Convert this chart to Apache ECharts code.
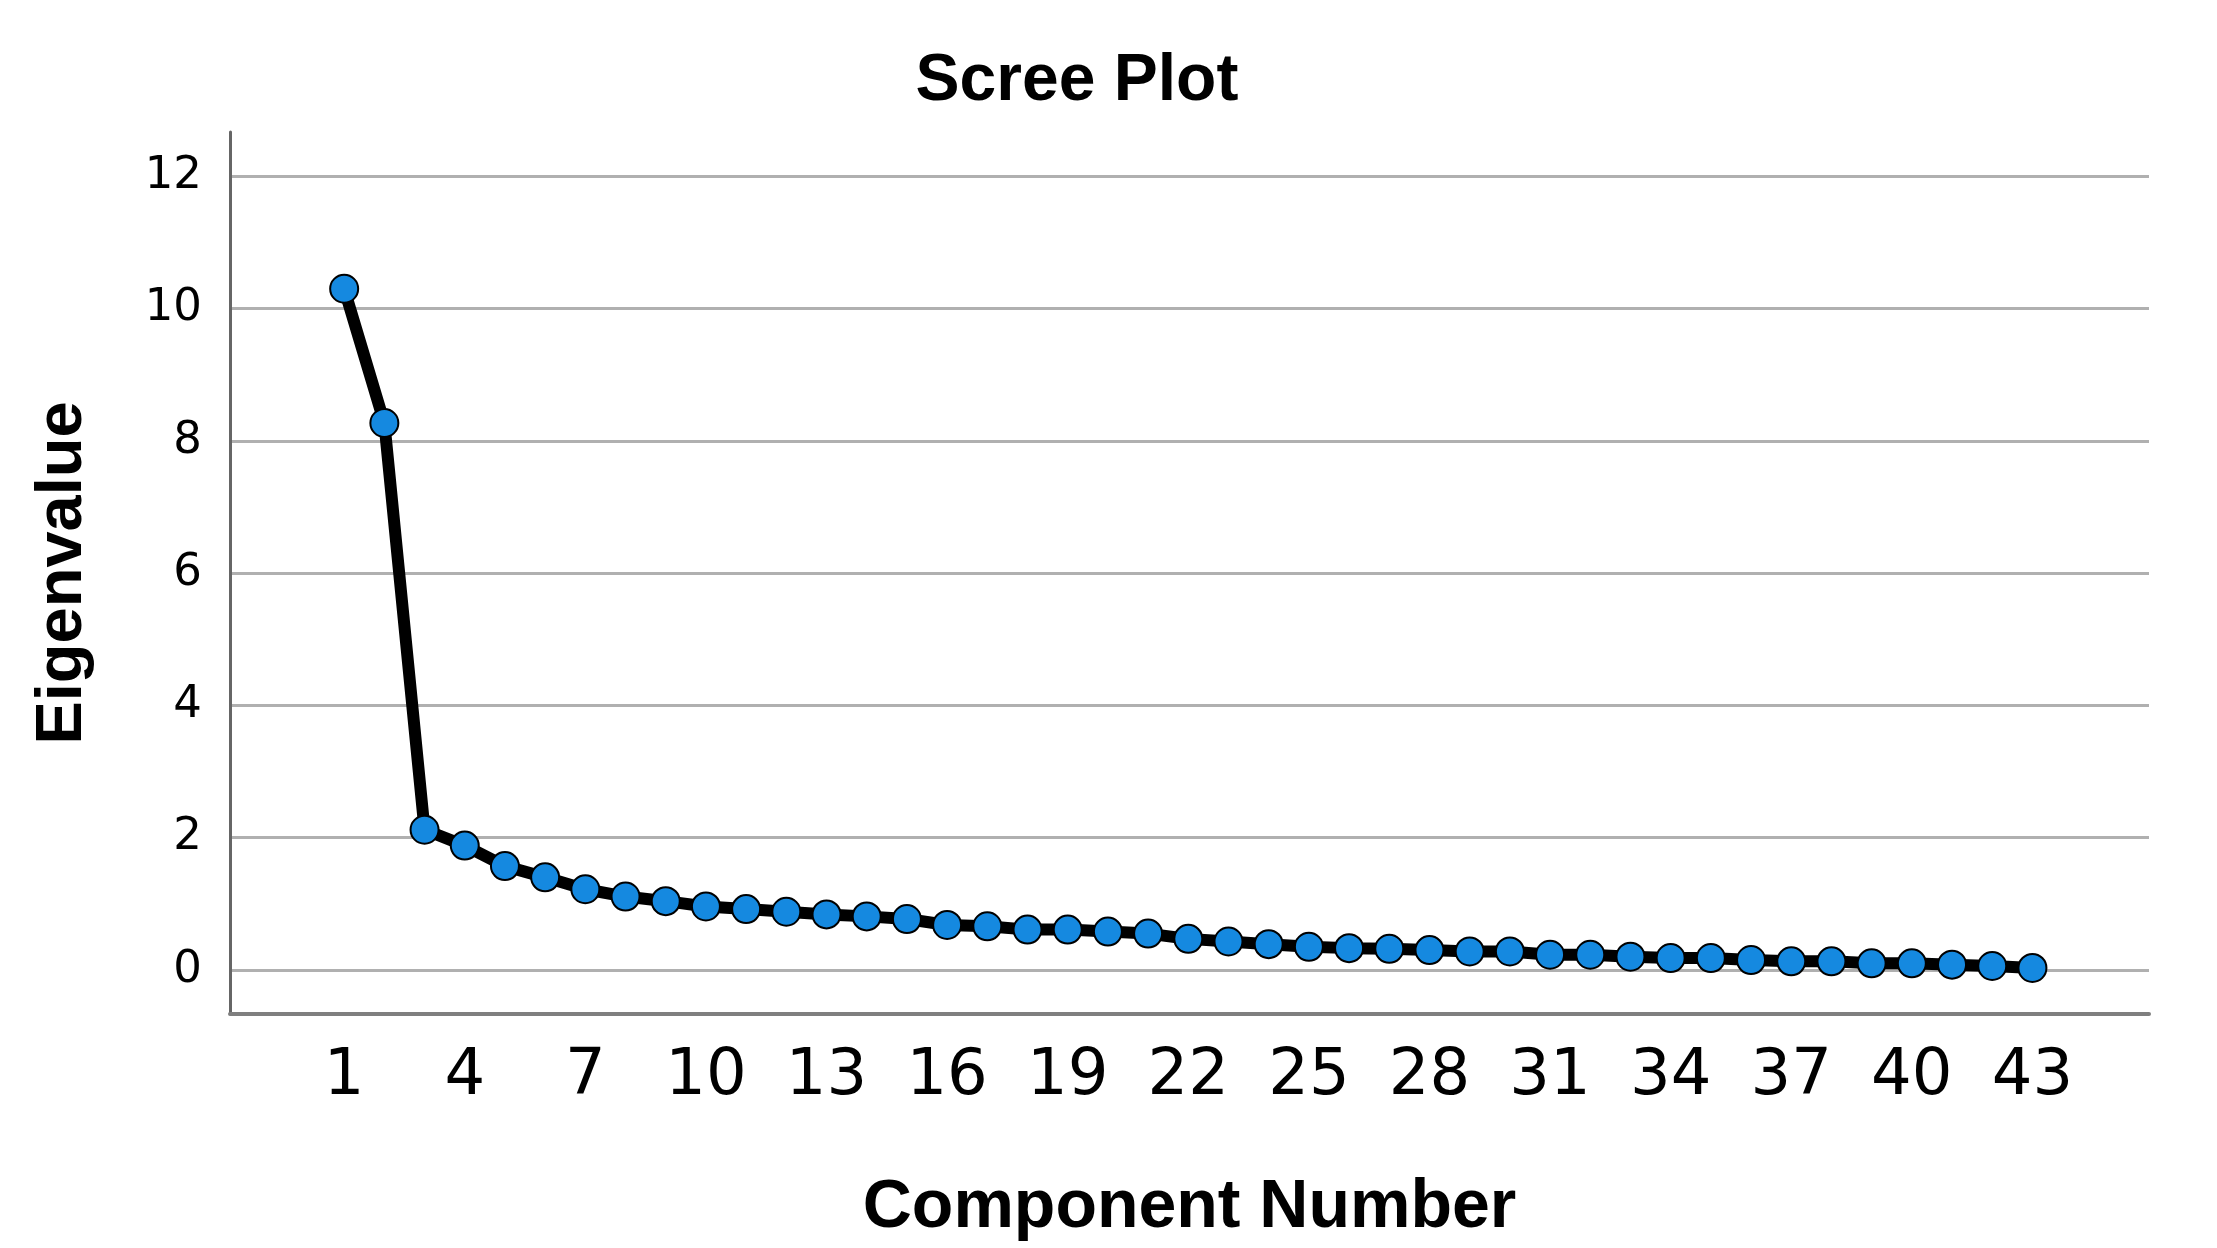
<!DOCTYPE html>
<html>
<head>
<meta charset="utf-8">
<script src="https://cdn.jsdelivr.net/npm/echarts@6/dist/echarts.min.js"></script>
<style>
html,body{margin:0;padding:0;background:#fff;}
#chart{width:2217px;height:1248px;}
</style>
</head>
<body>
<div id="chart"></div>
<script>
var components = [];
for (var i = 1; i <= 43; i++) components.push(i);
var eigenvalues = [10.30, 8.27, 2.12, 1.88, 1.57, 1.40, 1.22, 1.11, 1.04, 0.96,
  0.92, 0.88, 0.84, 0.81, 0.77, 0.68, 0.66, 0.61, 0.61, 0.58,
  0.55, 0.47, 0.43, 0.39, 0.35, 0.33, 0.32, 0.30, 0.28, 0.28,
  0.23, 0.23, 0.20, 0.18, 0.18, 0.15, 0.13, 0.13, 0.10, 0.10,
  0.08, 0.06, 0.03];
var xTicks = [1, 4, 7, 10, 13, 16, 19, 22, 25, 28, 31, 34, 37, 40, 43];
var yTicks = [0, 2, 4, 6, 8, 10, 12];

var seriesData = components.map(function (c, i) { return [c, eigenvalues[i]]; });

var chart = echarts.init(document.getElementById('chart'));
chart.setOption({
  animation: false,
  backgroundColor: '#ffffff',
  title: {
    text: 'Scree Plot',
    left: 1072,
    textAlign: 'center',
    top: 44,
    textStyle: { fontFamily: 'Liberation Sans', fontWeight: 'bold', fontSize: 66, color: '#000' }
  },
  grid: { left: 230, right: 68, top: 132, bottom: 234, containLabel: false },
  xAxis: {
    type: 'value',
    min: -1.84,
    max: 45.9,
    name: 'Component Number',
    nameLocation: 'middle',
    nameGap: 160,
    nameTextStyle: { fontFamily: 'Liberation Sans', fontWeight: 'bold', fontSize: 68, color: '#000' },
    axisLine: { show: true, onZero: false, lineStyle: { color: '#7f7f7f', width: 4 } },
    axisTick: { show: false, customValues: xTicks },
    axisLabel: { customValues: xTicks, margin: 31, fontFamily: 'DejaVu Sans', fontSize: 64, color: '#000' },
    splitLine: { show: false }
  },
  yAxis: {
    type: 'value',
    min: -0.666,
    max: 12.67,
    name: 'Eigenvalue',
    nameLocation: 'middle',
    nameRotate: 90,
    nameGap: 134,
    nameTextStyle: { fontFamily: 'Liberation Sans', fontWeight: 'bold', fontSize: 65, color: '#000' },
    axisLine: { show: true, onZero: false, lineStyle: { color: '#666666', width: 3 } },
    axisTick: { show: false, customValues: yTicks },
    axisLabel: { customValues: yTicks, margin: 28, fontFamily: 'DejaVu Sans', fontSize: 45, color: '#000' },
    splitLine: { show: true, lineStyle: { color: '#b0b0b0', width: 3 } }
  },
  series: [{
    type: 'line',
    data: seriesData,
    symbol: 'circle',
    symbolSize: 28,
    showAllSymbol: true,
    lineStyle: { color: '#000', width: 12 },
    itemStyle: { color: '#1589e0', borderColor: '#000', borderWidth: 2 },
    emphasis: { disabled: true }
  }]
});
</script>
</body>
</html>
